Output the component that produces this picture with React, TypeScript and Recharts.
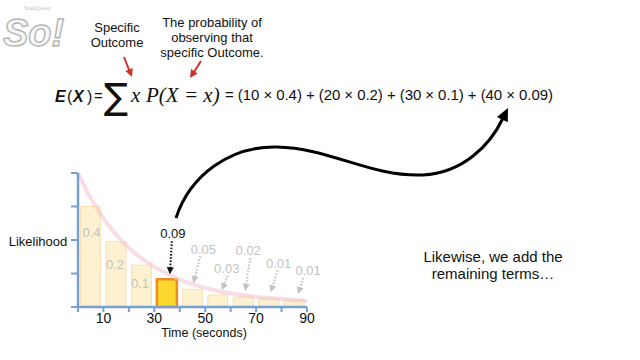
import { ComposedChart, Bar, Line, XAxis, YAxis, Cell, LabelList } from "recharts";

// bars: one per 10 second bin, height = likelihood (drawn scale), label = probability
const binMids = [5, 15, 25, 35, 45, 55, 65, 75, 85];
const binHeights = [3.0, 1.95, 1.25, 0.83, 0.53, 0.36, 0.3, 0.26, 0.21];
const binProbs = ["0.4", "0.2", "0.1", "0.09", "0.05", "0.03", "0.02", "0.01", "0.01"];
const highlightBin = 3;

// the pink density curve
const curveTimes = [0, 5, 10, 15, 20, 25, 30, 35, 40, 45, 50, 55, 60, 65, 70, 75, 80, 85, 90];
const curveValues = [4.0, 3.25, 2.65, 2.15, 1.76, 1.45, 1.2, 1.0, 0.82, 0.68, 0.57, 0.48, 0.41, 0.35, 0.3, 0.27, 0.24, 0.21, 0.19];

const xTicks = [0, 10, 20, 30, 40, 50, 60, 70, 80, 90];
const xTickLabels = [10, 30, 50, 70, 90];
const yTicks = [0, 1, 2, 3, 4];

const equationTail = "= (10 × 0.4) + (20 × 0.2) + (30 × 0.1) + (40 × 0.09)";

const barData = binMids.map((t, i) => ({ t, h: binHeights[i], p: binProbs[i] }));
const curveData = curveTimes.map((t, i) => ({ t, v: curveValues[i] }));

const SANS = "'Liberation Sans', Arial, Helvetica, sans-serif";
const SERIF = "'Liberation Serif', 'Times New Roman', serif";
const AXIS = "#74a0d4";

// label placement relative to the top-centre of each bar (px)
const labelLayout: { dx: number; dy: number; arrow?: number[] }[] = [
  { dx: 1, dy: 26 },
  { dx: -1, dy: 23 },
  { dx: -1.5, dy: 18 },
  { dx: 6, dy: -46, arrow: [5, -38, 3, -5] },
  { dx: 11, dy: -40, arrow: [8, -33, 1, -6] },
  { dx: 9, dy: -26, arrow: [10, -19, 4, -5] },
  { dx: 5, dy: -46, arrow: [7, -39, 2, -6] },
  { dx: 10, dy: -35, arrow: [9, -28, 2, -6] },
  { dx: 14, dy: -29, arrow: [9, -22, 4, -6] },
];

function arrowHead(x1: number, y1: number, x2: number, y2: number, len: number, half: number) {
  const a = Math.atan2(y2 - y1, x2 - x1);
  const bx = x2 - len * Math.cos(a);
  const by = y2 - len * Math.sin(a);
  const px = -Math.sin(a) * half;
  const py = Math.cos(a) * half;
  return `${x2},${y2} ${bx + px},${by + py} ${bx - px},${by - py}`;
}

function BinLabel(props: any) {
  const vb = props.viewBox || {};
  const x = props.x ?? vb.x;
  const y = props.y ?? vb.y;
  const width = props.width ?? vb.width;
  const index = props.index;
  const lay = labelLayout[index];
  if (!lay || x == null) return null;
  const cx = x + width / 2;
  const color = index === highlightBin ? "#111" : "#c2c2c2";
  let arrow = null;
  if (lay.arrow) {
    const [sx, sy, tx, ty] = lay.arrow;
    const x1 = cx + sx, y1 = y + sy, x2 = cx + tx, y2 = y + ty;
    const a = Math.atan2(y2 - y1, x2 - x1);
    arrow = (
      <g>
        <line x1={x1} y1={y1} x2={x2 - 5 * Math.cos(a)} y2={y2 - 5 * Math.sin(a)}
          stroke={color} strokeWidth={2} strokeDasharray="1.6 1.6" />
        <polygon points={arrowHead(x1, y1, x2, y2, 7, 3.5)} fill={color} />
      </g>
    );
  }
  return (
    <g>
      <text x={cx + lay.dx} y={y + lay.dy} textAnchor="middle" dominantBaseline="central"
        fontFamily={SANS} fontSize={13} fill={color}>
        {props.value}
      </text>
      {arrow}
    </g>
  );
}

export default function App() {
  return (
    <div style={{ position: "absolute", left: 0, top: 0, width: 640, height: 360, background: "#fff", overflow: "hidden" }}>
      <div style={{ position: "absolute", left: 0, top: 0 }}>
        <ComposedChart width={640} height={360} data={barData}
          margin={{ top: 173, right: 333, bottom: 23, left: 68 }}>
          <XAxis xAxisId="curve" type="number" dataKey="t" domain={[0, 90]} hide
            orientation="top" height={0} />
          <XAxis xAxisId="time" type="number" dataKey="t" domain={[0, 90]} ticks={xTicks}
            allowDataOverflow
            tickFormatter={(v: number) => (xTickLabels.includes(v) ? String(v) : "")}
            tick={{ fill: "#111", fontSize: 14, fontFamily: SANS }}
            tickSize={5} tickMargin={1}
            axisLine={{ stroke: AXIS, strokeWidth: 2.5 }}
            tickLine={{ stroke: AXIS, strokeWidth: 2 }} height={30} />
          <YAxis type="number" domain={[0, 4]} ticks={yTicks} width={10}
            tick={() => <g />}
            tickSize={7} axisLine={{ stroke: AXIS, strokeWidth: 2.5 }}
            tickLine={{ stroke: AXIS, strokeWidth: 2 }} />
          <Bar xAxisId="time" dataKey="h" fill="#fdf1cf" stroke="#f6e0b6" strokeWidth={1}
            isAnimationActive={false} barCategoryGap={0}>
            {barData.map((_, i) => (
              <Cell key={i}
                fill={i === highlightBin ? "#fcd72e" : "#fdf1cf"}
                stroke={i === highlightBin ? "#ee8d1c" : "#f6e0b6"}
                strokeWidth={i === highlightBin ? 2.5 : 1} />
            ))}
            <LabelList dataKey="p" content={(p: any) => <BinLabel {...p} />} />
          </Bar>
          <Line xAxisId="curve" data={curveData} dataKey="v" type="monotone" stroke="#f4c0cd"
            strokeOpacity={0.55} strokeWidth={4} dot={false} isAnimationActive={false} />
        </ComposedChart>
      </div>

      <svg width={640} height={360} style={{ position: "absolute", left: 0, top: 0, pointerEvents: "none" }}>
        {/* logo */}
        <text x={3} y={46} fontFamily={SANS} fontSize={38} fontWeight="bold" fontStyle="italic"
          fill="#f7f7f7" stroke="#b5b5b5" strokeWidth={1.4}>So!</text>
        <text x={24} y={10} fontFamily={SANS} fontSize={6} fill="#c8c8c8">StatQuest</text>

        {/* annotations above the formula */}
        <g fontFamily={SANS} fontSize={13} fill="#111" textAnchor="middle">
          <text x={117} y={32}>Specific</text>
          <text x={117} y={47}>Outcome</text>
          <text x={212} y={27}>The probability of</text>
          <text x={212} y={42}>observing that</text>
          <text x={212} y={57}>specific Outcome.</text>
        </g>
        <g stroke="#d0302b" strokeWidth={2}>
          <line x1={124} y1={57} x2={129.5} y2={71} />
          <line x1={201} y1={61} x2={194} y2={72} />
        </g>
        <polygon points={arrowHead(124, 57, 132, 77, 8, 4)} fill="#d0302b" />
        <polygon points={arrowHead(201, 61, 190, 78, 8, 4)} fill="#d0302b" />

        {/* formula */}
        <g fontFamily={SANS} fontSize={16} fill="#111">
          <text x={55} y={102} fontWeight="bold" fontStyle="italic">E</text>
          <text x={67} y={102}>(</text>
          <text x={73} y={102} fontWeight="bold" fontStyle="italic">X</text>
          <text x={87} y={102}>)</text>
          <text x={94} y={101} fontSize={15}>=</text>
        </g>
        <text x={104} y={109} fontFamily="'DejaVu Sans', sans-serif" fontSize={36} fill="#111">∑</text>
        <text x={131} y={102} fontFamily={SERIF} fontStyle="italic" fontSize={21} fill="#111">x</text>
        <text x={146} y={102} fontFamily={SERIF} fontStyle="italic" fontSize={21} fill="#111">P(X = x)</text>
        <text x={225} y={100} fontFamily={SANS} fontSize={15} fill="#111" textLength={328}>{equationTail}</text>

        {/* big curved arrow */}
        <path d="M176,218 C190,175 230,146 277,147 C330,148 370,177 423,175 C462,173 490,146 503,118"
          fill="none" stroke="#000" strokeWidth={3} />
        <polygon points={arrowHead(495, 135, 508, 108, 13, 6)} fill="#000" />

        {/* axis titles */}
        <text x={38} y={241} fontFamily={SANS} fontSize={13} fill="#111" textAnchor="middle" dominantBaseline="central">Likelihood</text>
        <text x={204} y={333} fontFamily={SANS} fontSize={12.5} fill="#111" textAnchor="middle" dominantBaseline="central">Time (seconds)</text>

        {/* right-hand note */}
        <g fontFamily={SANS} fontSize={15} fill="#111" textAnchor="middle">
          <text x={493} y={262}>Likewise, we add the</text>
          <text x={493} y={279}>remaining terms…</text>
        </g>
      </svg>
    </div>
  );
}
